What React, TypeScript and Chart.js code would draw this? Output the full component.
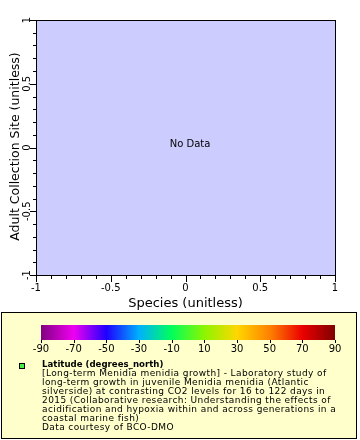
import React, { useEffect, useRef } from "react";
import { Chart, registerables } from "chart.js";

Chart.register(...registerables);

// ---- data ----
const xTickValues = [-1, -0.5, 0, 0.5, 1];
const xTickLabels = ["-1", "-0.5", "0", "0.5", "1"];
const yTickValues = [-1, -0.5, 0, 0.5, 1];
const yTickLabels = ["-1", "-0.5", "0", "0.5", "1"];
const xTitle = "Species (unitless)";
const yTitle = "Adult Collection Site (unitless)";
const noDataText = "No Data";
const colorbarTicks = [-90, -70, -50, -30, -10, 10, 30, 50, 70, 90];
const colorbarStops = [
  "rgb(128,0,128)",
  "rgb(240,0,240)",
  "rgb(30,0,255)",
  "rgb(0,176,255)",
  "rgb(0,255,90)",
  "rgb(140,245,0)",
  "rgb(255,215,0)",
  "rgb(255,130,0)",
  "rgb(235,0,0)",
  "rgb(128,0,0)",
];
const legendTitle = "Latitude (degrees_north)";
const legendLines = [
  "[Long-term Menidia menidia growth] - Laboratory study of",
  "long-term growth in juvenile Menidia menidia (Atlantic",
  "silverside) at contrasting CO2 levels for 16 to 122 days in",
  "2015 (Collaborative research: Understanding the effects of",
  "acidification and hypoxia within and across generations in a",
  "coastal marine fish)",
  "Data courtesy of BCO-DMO",
];
const points: { x: number; y: number }[] = [];

const FONT = '"DejaVu Sans", sans-serif';

const framePlugin = {
  id: "erddapFrame",
  beforeDraw(chart: any) {
    const ctx = chart.ctx;
    const a = chart.chartArea;
    ctx.save();
    ctx.fillStyle = "#ffffff";
    ctx.fillRect(0, 0, chart.width, chart.height);
    ctx.fillStyle = "#ccccff";
    ctx.fillRect(a.left, a.top, a.right - a.left, a.bottom - a.top);
    ctx.restore();
  },
  afterDraw(chart: any) {
    const ctx = chart.ctx;
    const xs = chart.scales.x;
    const ys = chart.scales.y;
    const L = Math.round(xs.getPixelForValue(-1));
    const R = Math.round(xs.getPixelForValue(1));
    const T = Math.round(ys.getPixelForValue(1));
    const B = Math.round(ys.getPixelForValue(-1));
    ctx.save();
    ctx.strokeStyle = "#000";
    ctx.lineWidth = 1;
    ctx.strokeRect(L + 0.5, T + 0.5, R - L, B - T);

    // ticks
    ctx.beginPath();
    for (let i = 0; i < xTickValues.length; i++) {
      const px = Math.round(xs.getPixelForValue(xTickValues[i])) + 0.5;
      ctx.moveTo(px, B + 1);
      ctx.lineTo(px, B + 7);
      if (i < xTickValues.length - 1) {
        const step = (xTickValues[i + 1] - xTickValues[i]) / 5;
        for (let k = 1; k < 5; k++) {
          const mx = Math.round(xs.getPixelForValue(xTickValues[i] + step * k)) + 0.5;
          ctx.moveTo(mx, B + 1);
          ctx.lineTo(mx, B + 4);
        }
      }
    }
    for (let i = 0; i < yTickValues.length; i++) {
      const py = Math.round(ys.getPixelForValue(yTickValues[i])) + 0.5;
      ctx.moveTo(L, py);
      ctx.lineTo(L - 6, py);
      if (i < yTickValues.length - 1) {
        const step = (yTickValues[i + 1] - yTickValues[i]) / 5;
        for (let k = 1; k < 5; k++) {
          const my = Math.round(ys.getPixelForValue(yTickValues[i] + step * k)) + 0.5;
          ctx.moveTo(L, my);
          ctx.lineTo(L - 3, my);
        }
      }
    }
    ctx.stroke();

    ctx.fillStyle = "#000";
    ctx.font = "10px " + FONT;
    ctx.textAlign = "center";
    ctx.textBaseline = "alphabetic";
    xTickValues.forEach((v, i) => {
      ctx.fillText(xTickLabels[i], xs.getPixelForValue(v), B + 16);
    });
    yTickValues.forEach((v, i) => {
      ctx.save();
      ctx.translate(L - 6, ys.getPixelForValue(v));
      ctx.rotate(-Math.PI / 2);
      ctx.fillText(yTickLabels[i], 0, 0);
      ctx.restore();
    });

    // titles
    ctx.font = "13px " + FONT;
    ctx.fillText(xTitle, (L + R) / 2, B + 32);
    ctx.font = "12.5px " + FONT;
    ctx.save();
    ctx.translate(18.5, (T + B) / 2 - 1);
    ctx.rotate(-Math.PI / 2);
    ctx.fillText(yTitle, 0, 0);
    ctx.restore();

    // no data
    ctx.font = "10px " + FONT;
    ctx.fillText(noDataText, 190, 147);

    // legend box
    ctx.fillStyle = "#ffffcc";
    ctx.fillRect(1, 312, 355, 126);
    ctx.strokeStyle = "#000";
    ctx.strokeRect(1.5, 312.5, 355, 126);

    // colorbar
    const cbL = 41, cbR = 335, cbT = 325, cbH = 15;
    const grad = ctx.createLinearGradient(cbL, 0, cbR, 0);
    colorbarStops.forEach((c, i) => grad.addColorStop(i / (colorbarStops.length - 1), c));
    ctx.fillStyle = grad;
    ctx.fillRect(cbL, cbT, cbR - cbL, cbH);
    const vmin = colorbarTicks[0];
    const vmax = colorbarTicks[colorbarTicks.length - 1];
    ctx.beginPath();
    colorbarTicks.forEach((v) => {
      const px = Math.round(cbL + ((v - vmin) / (vmax - vmin)) * (cbR - cbL)) + 0.5;
      ctx.moveTo(px, cbT + cbH);
      ctx.lineTo(px, cbT + cbH + 3);
    });
    ctx.stroke();
    ctx.fillStyle = "#000";
    ctx.font = "10px " + FONT;
    ctx.textAlign = "center";
    colorbarTicks.forEach((v) => {
      const px = cbL + ((v - vmin) / (vmax - vmin)) * (cbR - cbL);
      ctx.fillText(String(v), px, 352);
    });

    // legend entry
    ctx.fillStyle = "#44ee44";
    ctx.fillRect(19, 363, 6, 6);
    ctx.strokeStyle = "#000";
    ctx.strokeRect(19.5, 363.5, 5, 5);
    ctx.fillStyle = "#000";
    ctx.textAlign = "left";
    ctx.font = "bold 8.6px " + FONT;
    ctx.fillText(legendTitle, 42, 367);
    ctx.font = "9px " + FONT;
    (ctx as any).letterSpacing = "0.4px";
    legendLines.forEach((line, i) => {
      ctx.fillText(line, 42, 375.5 + i * 9.1);
    });
    (ctx as any).letterSpacing = "0px";
    ctx.restore();
  },
};

export default function App() {
  const ref = useRef<HTMLCanvasElement>(null);
  useEffect(() => {
    if (!ref.current) return;
    const chart = new Chart(ref.current, {
      type: "scatter",
      data: { datasets: [{ data: points, pointRadius: 2, backgroundColor: "#44ee44" }] },
      options: {
        responsive: false,
        animation: false,
        devicePixelRatio: 1,
        layout: { padding: { left: 36, top: 20, right: 25, bottom: 165 } },
        scales: {
          x: { type: "linear", min: -1, max: 1, display: false },
          y: { type: "linear", min: -1, max: 1, display: false },
        },
        plugins: { legend: { display: false }, tooltip: { enabled: false } },
      },
      plugins: [framePlugin],
    });
    return () => chart.destroy();
  }, []);
  return (
    <div style={{ position: "absolute", left: 0, top: 0, width: 360, height: 440 }}>
      <canvas ref={ref} width={360} height={440} style={{ display: "block" }} />
    </div>
  );
}
